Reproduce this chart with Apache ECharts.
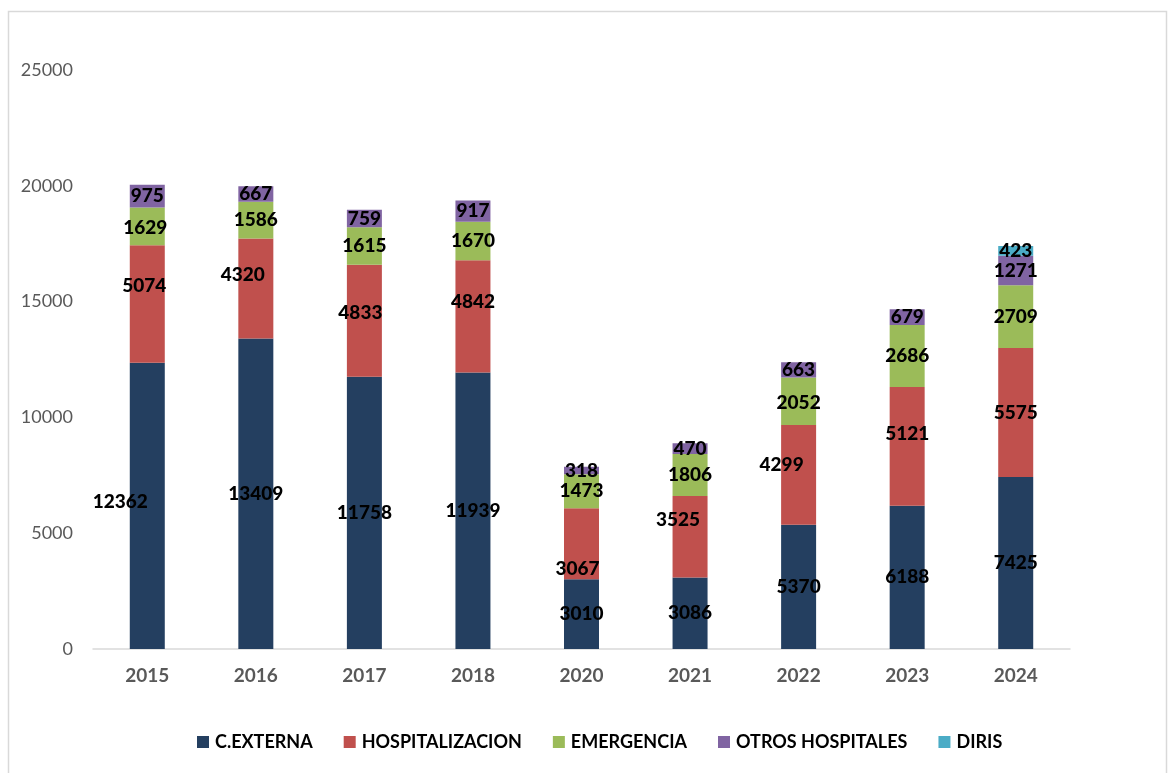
<!DOCTYPE html>
<html><head><meta charset="utf-8">
<script src="https://cdn.jsdelivr.net/npm/echarts@6/dist/echarts.min.js"></script>
<style>html,body{margin:0;padding:0;background:#fff}#c{width:1169px;height:773px}</style>
</head><body><div id="c"></div>
<script>
const years = ['2015','2016','2017','2018','2020','2021','2022','2023','2024'];
const cExterna = [12362,13409,11758,11939,3010,3086,5370,6188,7425];
const hospitalizacion = [5074,4320,4833,4842,3067,3525,4299,5121,5575];
const emergencia = [1629,1586,1615,1670,1473,1806,2052,2686,2709];
const otrosHospitales = [975,667,759,917,318,470,663,679,1271];
const diris = [null,null,null,null,null,null,null,null,423];
const yTicks = [0,5000,10000,15000,20000,25000];

const seriesNames = ['C.EXTERNA','HOSPITALIZACION','EMERGENCIA','OTROS HOSPITALES','DIRIS'];
const seriesData = [cExterna,hospitalizacion,emergencia,otrosHospitales,diris];
const colors = ['#243F60','#C0504D','#9BBB59','#8064A2','#4BACC6'];

// label nudges (styling only): [seriesIndex][categoryIndex] = [dx, dy]
const nudges = {
  '0-0': [-27, -4],
  '1-0': [-3, -18], '1-1': [-13, -14], '1-2': [-4, -8], '1-3': [0, -15],
  '1-4': [-4, 25], '1-5': [-12, -17], '1-6': [-17, -10], '1-7': [0, -13],
  '2-0': [-2, 2], '2-6': [0, 2]
};

const FONT = 'Lato, "Liberation Sans", sans-serif';
const series = seriesData.map((arr, si) => ({
  name: seriesNames[si],
  type: 'bar',
  stack: 'total',
  barWidth: 35,
  itemStyle: { color: colors[si] },
  data: arr.map((v, ci) => {
    const d = { value: v };
    const n = nudges[si + '-' + ci];
    if (n) d.label = { offset: n };
    return d;
  }),
  label: {
    show: true, position: 'inside', color: '#000',
    fontFamily: FONT, fontWeight: 900, fontSize: 19,
    formatter: p => (p.value == null ? '' : p.value)
  }
}));

const chart = echarts.init(document.getElementById('c'), null, { renderer: 'canvas' });
chart.setOption({
  animation: false,
  backgroundColor: '#fff',
  graphic: [{
    type: 'rect', shape: { x: 8.5, y: 11.5, width: 1158, height: 775 },
    style: { fill: 'none', stroke: '#d9d9d9', lineWidth: 1.5 }, silent: true, z: -1
  }],
  grid: { left: 93, right: 99, top: 70, bottom: 124, containLabel: false },
  legend: {
    bottom: 17, left: 192, itemWidth: 12, itemHeight: 12, itemGap: 31,
    icon: 'rect',
    textStyle: { fontFamily: FONT, fontWeight: 'bold', fontSize: 18, color: '#000', padding: [0, 0, 0, 1] },
    data: seriesNames
  },
  xAxis: {
    type: 'category', data: years,
    axisLine: { lineStyle: { color: '#d9d9d9', width: 1.5 } },
    axisTick: { show: false },
    axisLabel: { color: '#595959', fontFamily: FONT, fontWeight: 'bold', fontSize: 19, margin: 17 }
  },
  yAxis: {
    type: 'value', min: yTicks[0], max: yTicks[yTicks.length - 1], interval: 5000,
    splitLine: { show: false }, axisLine: { show: false }, axisTick: { show: false },
    axisLabel: { color: '#595959', fontFamily: FONT, fontSize: 18, margin: 20, formatter: v => String(v) }
  },
  series
});
</script></body></html>
